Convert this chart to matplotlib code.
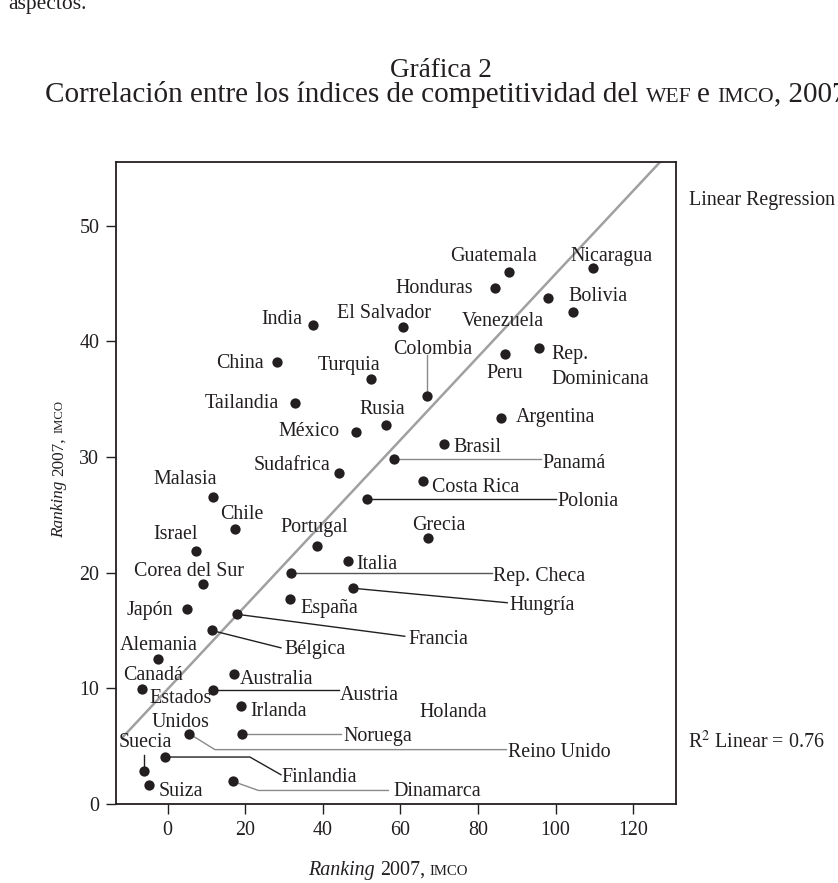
import matplotlib.pyplot as plt

plt.rcParams['font.family'] = ['Liberation Serif', 'DejaVu Serif']
plt.rcParams['mathtext.fontset'] = 'stix'

# datos (x: indice WEF, y: ranking IMCO)
paises = ['India', 'El Salvador', 'China', 'Turquia', 'Tailandia', 'Colombia',
          'Rusia', 'México', 'Brasil', 'Guatemala', 'Honduras', 'Nicaragua',
          'Venezuela', 'Bolivia', 'Peru', 'Rep. Dominicana', 'Argentina',
          'Sudafrica', 'Panamá', 'Costa Rica', 'Polonia', 'Malasia', 'Chile',
          'Grecia', 'Portugal', 'Israel', 'Italia', 'Rep. Checa',
          'Corea del Sur', 'Hungría', 'España', 'Japón', 'Francia', 'Bélgica',
          'Alemania', 'Australia', 'Canadá', 'Austria', 'Irlanda',
          'Reino Unido', 'Noruega', 'Finlandia', 'Suecia', 'Suiza', 'Dinamarca']
wef = [37.4, 60.7, 28.1, 52.3, 32.8, 66.9, 56.2, 48.5, 71.3, 88.0, 84.4, 109.5,
       98.1, 104.5, 86.9, 95.8, 85.9, 44.2, 58.4, 65.9, 51.3, 11.6, 17.3,
       67.2, 38.4, 7.3, 46.4, 31.7, 9.0, 47.8, 31.5, 4.9, 17.9, 11.4,
       -2.4, 17.1, -6.7, 11.75, 18.8, 5.6, 19.1, -0.6, -6.0, -4.7, 16.9]
imco = [41.45, 41.2, 38.2, 36.7, 34.7, 35.3, 32.75, 32.2, 31.1, 46.0, 44.6, 46.3,
        43.7, 42.5, 38.9, 39.4, 33.4, 28.6, 29.8, 27.9, 26.4, 26.5, 23.8,
        23.0, 22.3, 21.9, 21.0, 19.97, 19.0, 18.65, 17.7, 16.9, 16.4, 15.0,
        12.55, 11.25, 9.93, 9.87, 8.43, 6.07, 6.07, 4.06, 2.88, 1.67, 1.95]

# recta de regresion (extremos leidos)
reg_x = [-11.5, 126.9]
reg_y = [5.8, 55.5]
r2 = 0.76

# etiquetas: texto, posicion (x, y) de la linea base izquierda
etiquetas = [
    ('India', 24.2, 41.5), ('El Salvador', 43.6, 42.05), ('Honduras', 58.8, 44.2),
    ('Guatemala', 72.9, 46.9), ('Nicaragua', 103.7, 46.9), ('Bolivia', 103.3, 43.5),
    ('Venezuela', 75.8, 41.3), ('Colombia', 58.0, 38.9), ('Rep.', 99.0, 38.5),
    ('Dominicana', 99.0, 36.35), ('Peru', 82.2, 36.8), ('China', 12.4, 37.65),
    ('Turquia', 38.7, 37.55), ('Tailandia', 9.6, 34.2), ('Rusia', 49.4, 33.7),
    ('México', 28.5, 31.8), ('Argentina', 89.8, 33.0), ('Brasil', 73.6, 30.45),
    ('Panamá', 96.6, 29.07), ('Costa Rica', 68.2, 27.0), ('Polonia', 100.4, 25.76),
    ('Grecia', 62.9, 23.7), ('Rep. Checa', 83.9, 19.3), ('Hungría', 88.0, 16.8),
    ('Francia', 62.0, 13.8), ('Sudafrica', 22.1, 28.9), ('Malasia', -3.7, 27.7),
    ('Chile', 13.5, 24.6), ('Portugal', 29.1, 23.5), ('Israel', -3.7, 22.9),
    ('Italia', 48.7, 20.3), ('Corea del Sur', -8.6, 19.75), ('España', 34.1, 16.5),
    ('Japón', -10.7, 16.35), ('Bélgica', 30.0, 12.95), ('Alemania', -12.3, 13.3),
    ('Canadá', -11.4, 10.7), ('Australia', 18.6, 10.4), ('Austria', 44.4, 9.0),
    ('Estados', -4.6, 8.7), ('Unidos', -4.1, 6.65), ('Irlanda', 21.2, 7.6),
    ('Holanda', 65.0, 7.56), ('Noruega', 45.3, 5.47), ('Reino Unido', 87.8, 4.1),
    ('Suecia', -12.5, 4.9), ('Finlandia', 29.4, 1.87), ('Suiza', -2.4, 0.66),
    ('Dinamarca', 58.1, 0.66),
]

# lineas guia: pais, puntos intermedios, color
guias = [
    ('Colombia', [(66.9, 38.8)], '#8a8a8a'),
    ('Panamá', [(96.3, 29.8)], '#8a8a8a'),
    ('Polonia', [(100.0, 26.4)], '#231f20'),
    ('Rep. Checa', [(83.6, 19.97)], '#555555'),
    ('Hungría', [(87.5, 17.4)], '#231f20'),
    ('Francia', [(61.1, 14.5)], '#231f20'),
    ('Bélgica', [(29.2, 13.5)], '#231f20'),
    ('Austria', [(44.1, 9.87)], '#231f20'),
    ('Noruega', [(44.8, 6.07)], '#8a8a8a'),
    ('Reino Unido', [(12.2, 4.7), (87.3, 4.7)], '#8a8a8a'),
    ('Finlandia', [(21.2, 4.06), (29.2, 2.53)], '#231f20'),
    ('Dinamarca', [(23.4, 1.17), (56.9, 1.17)], '#8a8a8a'),
    ('Suecia', [(-6.0, 4.26)], '#231f20'),
]

fs = 14.4
fig = plt.figure(figsize=(8.38, 8.83), dpi=100)
ax = fig.add_axes([116 / 838, 1 - 804 / 883, 560 / 838, 642 / 883])

ax.plot(reg_x, reg_y, color='#a0a0a0', lw=1.8, zorder=1)

for pais, puntos, color in guias:
    i = paises.index(pais)
    xs = [wef[i]] + [p[0] for p in puntos]
    ys = [imco[i]] + [p[1] for p in puntos]
    ax.plot(xs, ys, color=color, lw=1.0, zorder=2)

ax.scatter(wef, imco, s=55, color='#231f20', zorder=3, linewidths=0)

for texto, x, y in etiquetas:
    ax.text(x, y, texto, fontsize=fs, color='#231f20', va='baseline', ha='left')

ax.set_xlim(-13.3, 131)
ax.set_ylim(0, 55.5)
ax.set_xticks(range(0, 121, 20))
ax.set_yticks(range(0, 51, 10))
ax.tick_params(direction='out', length=7, width=1, labelsize=fs,
               colors='#231f20', pad=5)
for s in ax.spines.values():
    s.set_linewidth(1.3)
    s.set_color('#231f20')

fig.text(689 / 838, 1 - 205 / 883, 'Linear Regression', fontsize=fs,
         color='#231f20', va='baseline')
fig.text(688 / 838, 1 - 748 / 883, 'R$^{2}$ Linear = %.2f' % r2, fontsize=fs,
         color='#231f20', va='baseline')

fig.text(8 / 838, 1 - 9 / 883, 'aspectos.', fontsize=15.5, color='#231f20',
         va='baseline')
fig.text(441 / 838, 1 - 77 / 883, 'Gráfica 2', fontsize=19.5, color='#231f20',
         va='baseline', ha='center')

renderer = fig.canvas.get_renderer()


def texto_compuesto(x, y, partes, rot=False):
    # partes: (texto, tamaño, estilo, hueco despues en em)
    for s, size, style, gap in partes:
        t = fig.text(x / 838, 1 - y / 883, s, fontsize=size, style=style,
                     color='#231f20', ha='left', va='baseline',
                     rotation=90 if rot else 0, rotation_mode='anchor')
        bb = t.get_window_extent(renderer=renderer)
        hueco = gap * size * 100 / 72
        if rot:
            y = 883 - bb.y1 - hueco
        else:
            x = bb.x1 + hueco


sc = 0.74
ft = 21
texto_compuesto(45, 101.5, [
    ('Correlación entre los índices de competitividad del', ft, 'normal', 0.25),
    ('WEF', ft * sc, 'normal', 0.25),
    ('e', ft, 'normal', 0.25),
    ('IMCO', ft * sc, 'normal', 0.0),
    (', 2007', ft, 'normal', 0.0),
])
texto_compuesto(308, 875, [
    ('Ranking', fs, 'italic', 0.25),
    ('2007,', fs, 'normal', 0.25),
    ('IMCO', fs * sc, 'normal', 0.0),
])
fy = 12.4
texto_compuesto(63, 538, [
    ('Ranking', fy, 'italic', 0.25),
    ('2007,', fy, 'normal', 0.25),
    ('IMCO', fy * sc, 'normal', 0.0),
], rot=True)

fig.savefig('out.png', dpi=100)
